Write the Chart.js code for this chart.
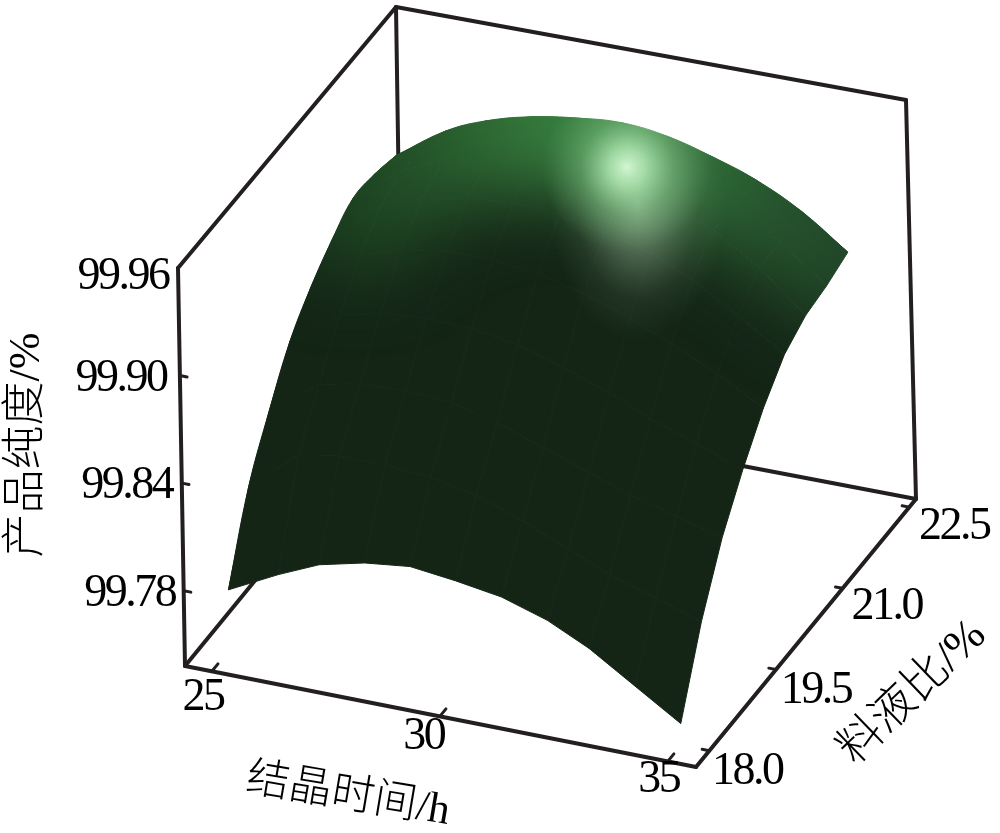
<!DOCTYPE html>
<html>
<head>
<meta charset="utf-8">
<style>html,body{margin:0;padding:0;background:#fff}canvas{display:block}</style>
<script src="https://cdn.jsdelivr.net/npm/chart.js@4"></script>
</head>
<body>
<canvas id="c" width="1000" height="833"></canvas>
<script>
// ---- data ----
const times = [25.1,26.2,27.1,28.1,29.1,30.1,31.1,32.1,33.0,34.0,35.0];
const ratios = [18,18.49,18.98,19.46,19.95,20.44,20.93,21.41,21.9];
const purity18 = [99.775,99.789,99.799,99.805,99.808,99.805,99.801,99.793,99.782,99.766,99.750];
const purity185 = [99.818,99.841,99.845,99.845,99.843,99.838,99.829,99.818,99.808,99.800,99.792];
const purity19 = [99.846,99.866,99.871,99.872,99.870,99.864,99.855,99.846,99.838,99.831,99.824];
const purity195 = [99.870,99.890,99.896,99.898,99.897,99.893,99.885,99.876,99.866,99.857,99.847];
const purity20 = [99.886,99.910,99.917,99.921,99.921,99.918,99.912,99.903,99.893,99.881,99.867];
const purity205 = [99.898,99.923,99.931,99.936,99.938,99.936,99.931,99.925,99.914,99.899,99.882];
const purity21 = [99.907,99.928,99.938,99.944,99.948,99.947,99.943,99.937,99.927,99.911,99.889];
const purity215 = [99.906,99.928,99.938,99.944,99.948,99.947,99.943,99.937,99.926,99.911,99.891];
const purity22 = [99.902,99.921,99.931,99.938,99.942,99.944,99.941,99.934,99.926,99.913,99.895];
const purity = [purity18,purity185,purity19,purity195,purity20,purity205,purity21,purity215,purity22];
const timeTicks = [25,30,35];
const ratioTicks = [18.0,19.5,21.0,22.5];
const purityTicks = [99.78,99.84,99.90,99.96];
const timeRange = [24.41,35.62];
const ratioRange = [17.70,22.65];
const purityRange = [99.738,99.96];

// ---- view of the box (picture position of its eight corners) ----
const view = {
  bottom: [[185,666],[696,767],[916,499],[402,401]],
  top:    [[178,268],[691,368],[906,100],[396,7]]
};
function bil(c,u,v,k){
  const f=c[0][k]+(c[1][k]-c[0][k])*u, b=c[3][k]+(c[2][k]-c[3][k])*u;
  return f+(b-f)*v;
}
function project(t,r,z){
  const u=(t-timeRange[0])/(timeRange[1]-timeRange[0]);
  const v=(r-ratioRange[0])/(ratioRange[1]-ratioRange[0]);
  const w=(z-purityRange[0])/(purityRange[1]-purityRange[0]);
  const xb=bil(view.bottom,u,v,0), yb=bil(view.bottom,u,v,1);
  const xt=bil(view.top,u,v,0), yt=bil(view.top,u,v,1);
  return {x:xb+(xt-xb)*w, y:yb+(yt-yb)*w};
}

// ---- surface shading painted once, used as the fill of every cell ----
const ink = '#231f20';
function buildShade(){
  const cv=document.createElement('canvas'); cv.width=1000; cv.height=833;
  const g=cv.getContext('2d');
  g.fillStyle='#142516'; g.fillRect(0,0,1000,833);
  const back=times.map((t,i)=>project(t,ratios[8],purity[8][i]));
  const left=ratios.map((r,j)=>project(times[0],r,purity[j][0]));
  g.save();
  g.filter='blur(38px)';
  const lg=g.createLinearGradient(330,0,860,0);
  lg.addColorStop(0,'#1a3d1f'); lg.addColorStop(.2,'#275a2c'); lg.addColorStop(.42,'#388040');
  lg.addColorStop(.6,'#3c8646'); lg.addColorStop(.8,'#285a2f'); lg.addColorStop(1,'#214529');
  g.strokeStyle=lg; g.lineWidth=150; g.lineCap='round'; g.lineJoin='round';
  g.beginPath();
  left.slice(6).forEach((p,i)=>i?g.lineTo(p.x,p.y):g.moveTo(p.x,p.y));
  back.forEach(p=>g.lineTo(p.x,p.y));
  g.stroke();
  g.restore();
  // gray tail under the highlight
  g.save(); g.translate(638,205); g.scale(88,135);
  let rg=g.createRadialGradient(0,0,0,0,0,1);
  rg.addColorStop(0,'rgba(175,200,175,.68)'); rg.addColorStop(.4,'rgba(145,175,145,.38)');
  rg.addColorStop(.7,'rgba(125,150,125,.13)'); rg.addColorStop(1,'rgba(120,150,120,0)');
  g.fillStyle=rg; g.beginPath(); g.arc(0,0,1,0,7); g.fill(); g.restore();
  // bright spot
  rg=g.createRadialGradient(627,167,0,627,167,85);
  rg.addColorStop(0,'rgba(212,248,212,.98)'); rg.addColorStop(.22,'rgba(178,236,180,.8)');
  rg.addColorStop(.55,'rgba(130,205,135,.38)'); rg.addColorStop(1,'rgba(110,180,115,0)');
  g.fillStyle=rg; g.beginPath(); g.arc(627,167,85,0,7); g.fill();
  return g.createPattern(cv,'no-repeat');
}
const shade = buildShade();

// ---- datasets ----
const datasets=[];
function edge(a,b,order,width){
  datasets.push({type:'scatter',showLine:true,fill:false,pointRadius:0,borderColor:ink,
    borderWidth:width,borderCapStyle:'round',order:order,
    data:[project(...a),project(...b)]});
}
const [t0,t1]=timeRange,[r0,r1]=ratioRange,[z0,z1]=purityRange;
// box
const boxW=4;
edge([t0,r0,z0],[t0,r1,z0],3,boxW);
edge([t0,r1,z0],[t0,r1,z1],3,boxW);
edge([t0,r1,z0],[t1,r1,z0],3,boxW);
edge([t0,r0,z0],[t0,r0,z1],3,boxW);
edge([t0,r0,z1],[t0,r1,z1],3,boxW);
edge([t0,r1,z1],[t1,r1,z1],3,boxW);
edge([t1,r1,z1],[t1,r1,z0],3,boxW);
edge([t0,r0,z0],[t1,r0,z0],3,boxW);
edge([t1,r0,z0],[t1,r1,z0],3,boxW);
// ticks
const du=(t1-t0)*0.014, dv=(r1-r0)*0.028;
timeTicks.forEach(t=>edge([t,r0,z0],[t,r0+dv,z0],3,3));
ratioTicks.forEach(r=>edge([t1,r,z0],[t1-du,r,z0],3,3));
purityTicks.slice(0,3).forEach(z=>edge([t0,r0,z],[t0+du,r0,z],3,3));
// surface cells
for(let j=0;j<ratios.length-1;j++){
  for(let i=0;i<times.length-1;i++){
    datasets.push({type:'scatter',showLine:true,fill:'shape',pointRadius:0,order:1,
      backgroundColor:shade,borderColor:shade,borderWidth:1,
      data:[project(times[i],ratios[j],purity[j][i]),
            project(times[i+1],ratios[j],purity[j][i+1]),
            project(times[i+1],ratios[j+1],purity[j+1][i+1]),
            project(times[i],ratios[j+1],purity[j+1][i]),
            project(times[i],ratios[j],purity[j][i])]});
  }
}
// the two outward-curving rims of the surface, smoothed
const nR=ratios.length-1;
const rims=[
  times.map((t,i)=>project(t,ratios[nR],purity[nR][i])),
  ratios.map((r,j)=>project(times[0],r,purity[j][0]))
];
rims.forEach(data=>datasets.push({type:'scatter',showLine:true,fill:'shape',pointRadius:0,order:2,
  tension:0.4,backgroundColor:shade,borderColor:shade,borderWidth:1,data}));

// ---- text ----
const numFont='46px "Liberation Serif"';
const cjk=s=>'300 '+s+'px "Liberation Serif","Noto Sans CJK SC"';
const labelPlugin={
  id:'labels',
  afterDraw(chart){
    const c=chart.ctx, sx=chart.scales.x, sy=chart.scales.y;
    const px=p=>[sx.getPixelForValue(p.x),sy.getPixelForValue(p.y)];
    function txt(s,x,y,font,rot,sp){
      c.save(); c.translate(x,y); c.rotate((rot||0)*Math.PI/180);
      c.font=font; c.fillStyle='#000'; c.textAlign='center'; c.textBaseline='middle';
      c.letterSpacing=(sp||0)+'px';
      c.fillText(s,0,0); c.restore();
    }
    purityTicks.forEach((z,i)=>{
      const [x,y]=px(project(t0,r0,z));
      const off=[[-54,3],[-55,3],[-59,3],[-55,9]][i];
      txt(z.toFixed(2),x+off[0],y+off[1],numFont,0,-2.5);
    });
    timeTicks.forEach((t,i)=>{
      const [x,y]=px(project(t,r0,z0));
      const off=[[-9,27],[-16,21],[-9,19]][i];
      txt(String(t),x+off[0],y+off[1],numFont,0,-2.5);
    });
    ratioTicks.forEach((r,i)=>{
      const [x,y]=px(project(t1,r,z0));
      const off=[[38,21],[40,21],[44,19],[45,20]][i];
      txt(r.toFixed(1),x+off[0],y+off[1],numFont,0,-2.5);
    });
    txt('产品纯度/%',27,445,cjk(44),-90,0);
    txt('结晶时间/h',348,796,cjk(43),9.5,0);
    txt('料液比/%',913,693,cjk(45),-44,0);
  }
};

new Chart(document.getElementById('c'),{
  type:'scatter',
  data:{datasets},
  options:{
    responsive:false,animation:false,
    layout:{padding:0},
    plugins:{legend:{display:false},tooltip:{enabled:false},title:{display:false}},
    elements:{line:{tension:0}},
    scales:{
      x:{type:'linear',min:0,max:1000,display:false},
      y:{type:'linear',min:0,max:833,reverse:true,display:false}
    }
  },
  plugins:[labelPlugin]
});
</script>
</body>
</html>
